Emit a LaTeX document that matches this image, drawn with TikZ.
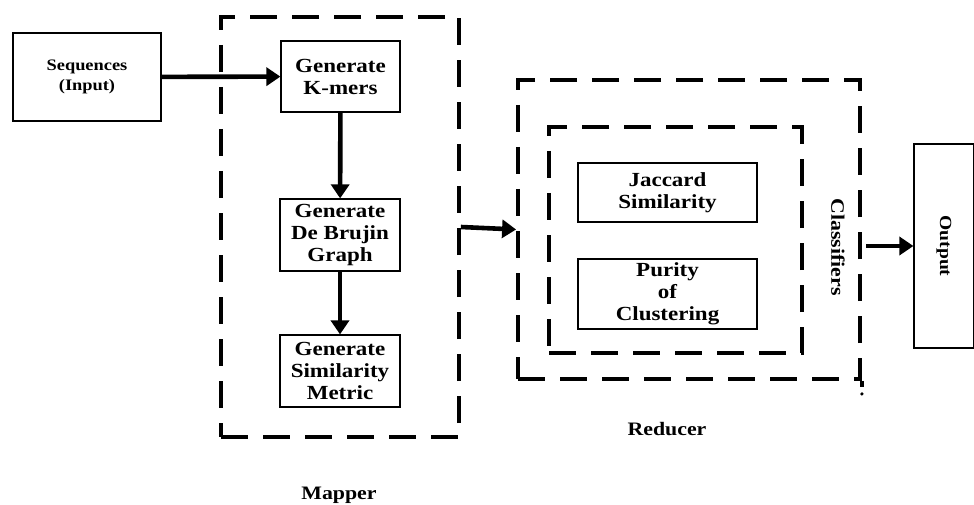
\documentclass[tikz,border=0pt]{standalone}
\usepackage{fontspec}
\setmainfont{Liberation Serif}[FakeStretch=1.15]
\usetikzlibrary{arrows.meta,calc}

\begin{document}
\begin{tikzpicture}[x=1pt,y=-1pt,
  box/.style={draw,line width=1.2pt,inner sep=0pt,align=center,
    font=\bfseries\fontsize{20}{22}\selectfont},
  smallbox/.style={box,font=\bfseries\fontsize{16}{20}\selectfont},
  group/.style={draw,line width=3.8pt,dash pattern=on 27pt off 15pt},
  flow/.style={line width=4.6pt,-{Triangle[length=14pt,width=18pt]}},
  caption/.style={inner sep=0pt,font=\bfseries\fontsize{19}{20}\selectfont}]
\useasboundingbox (0,0) rectangle (974,505);

% input
\node[smallbox,minimum width=148,minimum height=88] (seq) at (87,77) {Sequences\\(Input)};

% mapper stage
\node[group,minimum width=238,minimum height=420] (mapper) at (340,227) {};
\node[box,minimum width=119,minimum height=71] (kmers) at (340.5,76.5) {Generate\\K-mers};
\node[box,minimum width=120,minimum height=72] (debruijn) at (340,235) {Generate\\De Brujin\\Graph};
\node[box,minimum width=120,minimum height=72] (metric) at (340,371) {Generate\\Similarity\\Metric};
\node[caption,anchor=base] (maplabel) at (339,499) {Mapper};

% reducer stage
\node[group,minimum width=342,minimum height=299] (redout) at (689,229.5) {};
\draw[line width=3.8pt] (redout.south east) -- ++(0,6);
\fill ($(redout.south east)+(0,13)$) circle (1.8);
\node[group,minimum width=253,minimum height=226] (redin) at (675.5,240) {};
\node[box,minimum width=179,minimum height=59] (jaccard) at (667.5,192.5) {Jaccard\\Similarity};
\node[box,minimum width=179,minimum height=70] (purity) at (667.5,294) {Purity\\of\\Clustering};
\node[caption,rotate=-90] (cls) at (838,247) {Classifiers};
\node[caption,anchor=base] (redlabel) at (667,435) {Reducer};

% output
\node[box,rotate=-90,minimum width=204,minimum height=60,
  font=\bfseries\fontsize{17}{20}\selectfont] (out) at (944,246) {Output};

% connectors
\draw[flow] (seq) -- (kmers);
\draw[flow] (kmers) -- (debruijn);
\draw[flow] (debruijn) -- (metric);
\draw[flow] (mapper.east) -- (redout.west);
\coordinate (clsout) at (866,246);
\draw[flow] (clsout) -- (out.south);
\end{tikzpicture}
\end{document}
